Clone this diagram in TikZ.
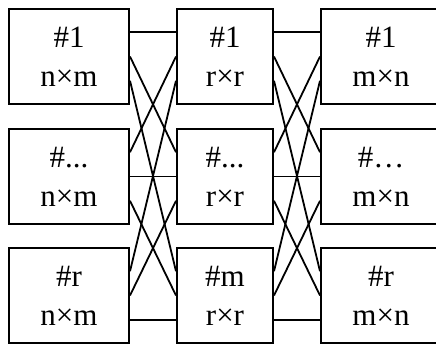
\documentclass[tikz,border=0pt]{standalone}
\usepackage{fontspec}
\setmainfont{Liberation Serif}
\usetikzlibrary{calc}
\begin{document}
\begin{tikzpicture}[x=1pt,y=-1pt,
  blk/.style={draw, line width=2pt, minimum height=95pt, inner sep=0pt,
    align=center, anchor=north west, font=\fontsize{31}{39}\selectfont},
  wide/.style={blk, minimum width=120pt},
  narrow/.style={blk, minimum width=96pt},
  wire/.style={line width=1.8pt}]
\useasboundingbox (0,0) rectangle (436,343);
\fill[white] (0,0) rectangle (436,343);
\clip (0,0) rectangle (436,343);
% column 1
\node[wide] (a1) at (8,8)   {\#1\\n×m};
\node[wide] (a2) at (8,128) {\#...\\n×m};
\node[wide] (a3) at (8,247) {\#r\\n×m};
% column 2
\node[narrow] (b1) at (176,8)   {\#1\\r×r};
\node[narrow] (b2) at (176,128) {\#...\\r×r};
\node[narrow] (b3) at (176,247) {\#m\\r×r};
% column 3
\node[wide] (c1) at (320,8)   {\#1\\m×n};
\node[wide] (c2) at (320,128) {\#…\\m×n};
\node[wide] (c3) at (320,247) {\#r\\m×n};
% wires
\foreach \ii/\pa in {1/0.25,2/0.5,3/0.75}{
  \foreach \jj/\pb in {1/0.25,2/0.5,3/0.75}{
    \draw[wire] ($(a\ii.north east)!\pb!(a\ii.south east)$) -- ($(b\jj.north west)!\pa!(b\jj.south west)$);
    \draw[wire] ($(b\ii.north east)!\pb!(b\ii.south east)$) -- ($(c\jj.north west)!\pa!(c\jj.south west)$);
  }
}
\end{tikzpicture}
\end{document}
